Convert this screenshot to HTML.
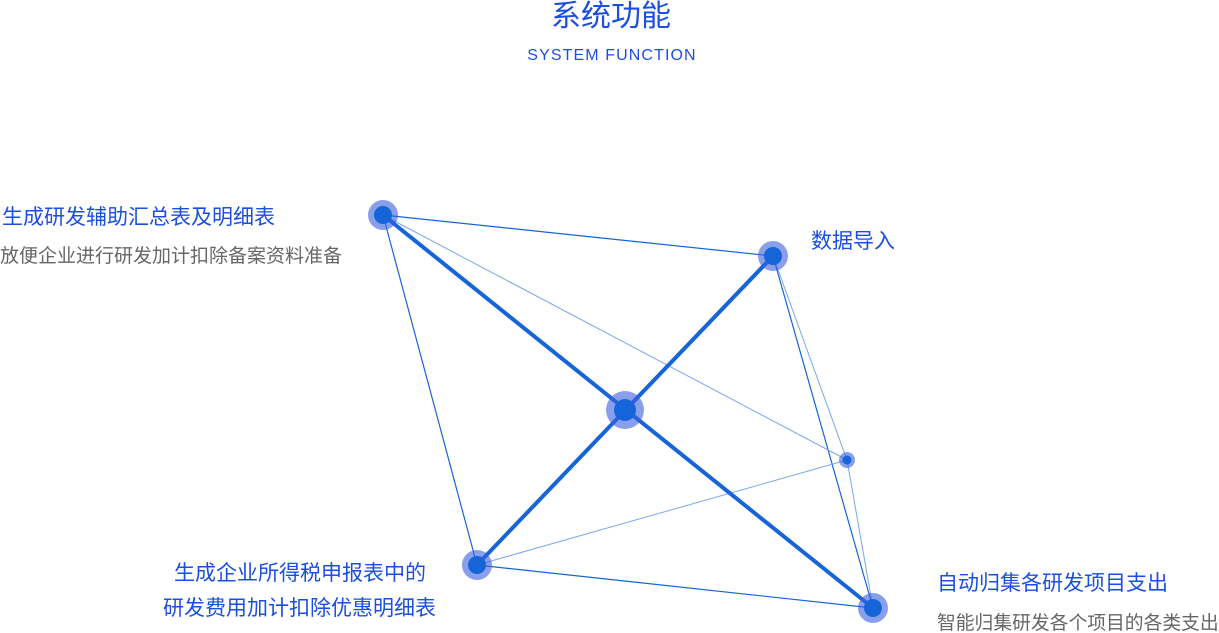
<!DOCTYPE html>
<html><head><meta charset="utf-8"><style>
body{margin:0;width:1219px;height:633px;background:#fff;position:relative;overflow:hidden;font-family:"Liberation Sans","Noto Sans CJK SC",sans-serif}
.t{position:absolute;white-space:nowrap;line-height:1}
.b{color:#1a4fe0}
.g{color:#666}
</style></head><body>
<svg width="1219" height="633" style="position:absolute;left:0;top:0">
<g stroke="#1565d8" fill="none">
<line x1="383" y1="215" x2="773" y2="256" stroke-width="1.2"/>
<line x1="383" y1="215" x2="477" y2="565" stroke-width="1.2"/>
<line x1="773" y1="256" x2="873" y2="608" stroke-width="1.2"/>
<line x1="477" y1="565" x2="873" y2="608" stroke-width="1.2"/>
<g stroke="#7aa6ec" stroke-width="1">
<line x1="383" y1="215" x2="847" y2="460"/>
<line x1="477" y1="565" x2="847" y2="460"/>
<line x1="773" y1="256" x2="847" y2="460"/>
<line x1="847" y1="460" x2="873" y2="608"/>
</g>
<line x1="383" y1="215" x2="873" y2="608" stroke-width="4"/>
<line x1="773" y1="256" x2="477" y2="565" stroke-width="4"/>
</g>
<g fill="#1565d8">
<circle cx="383" cy="215" r="15" fill="#3c5fe0" opacity=".6"/><circle cx="383" cy="215" r="9"/>
<circle cx="773" cy="256" r="15" fill="#3c5fe0" opacity=".6"/><circle cx="773" cy="256" r="9"/>
<circle cx="625" cy="410" r="19" fill="#3c5fe0" opacity=".6"/><circle cx="625" cy="410" r="11"/>
<circle cx="847" cy="460" r="8" fill="#3c5fe0" opacity=".6"/><circle cx="847" cy="460" r="4.5"/>
<circle cx="477" cy="565" r="15" fill="#3c5fe0" opacity=".6"/><circle cx="477" cy="565" r="9"/>
<circle cx="873" cy="608" r="15" fill="#3c5fe0" opacity=".6"/><circle cx="873" cy="608" r="9"/>
</g>
</svg>
<div class="t b" style="left:0;width:1222px;text-align:center;top:2px;font-size:30px">系统功能</div>
<div class="t b" style="left:0;width:1224px;text-align:center;top:48px;font-size:16px;letter-spacing:1.1px">SYSTEM FUNCTION</div>
<div class="t b" style="left:2px;top:207px;font-size:21px">生成研发辅助汇总表及明细表</div>
<div class="t g" style="left:0;top:247px;font-size:19px">放便企业进行研发加计扣除备案资料准备</div>
<div class="t b" style="left:811px;top:231px;font-size:21px">数据导入</div>
<div class="t b" style="left:174px;top:563px;font-size:21px">生成企业所得税申报表中的</div>
<div class="t b" style="left:163px;top:598px;font-size:21px">研发费用加计扣除优惠明细表</div>
<div class="t b" style="left:937px;top:573px;font-size:21px">自动归集各研发项目支出</div>
<div class="t g" style="left:937px;top:614px;font-size:18.8px">智能归集研发各个项目的各类支出</div>
</body></html>
